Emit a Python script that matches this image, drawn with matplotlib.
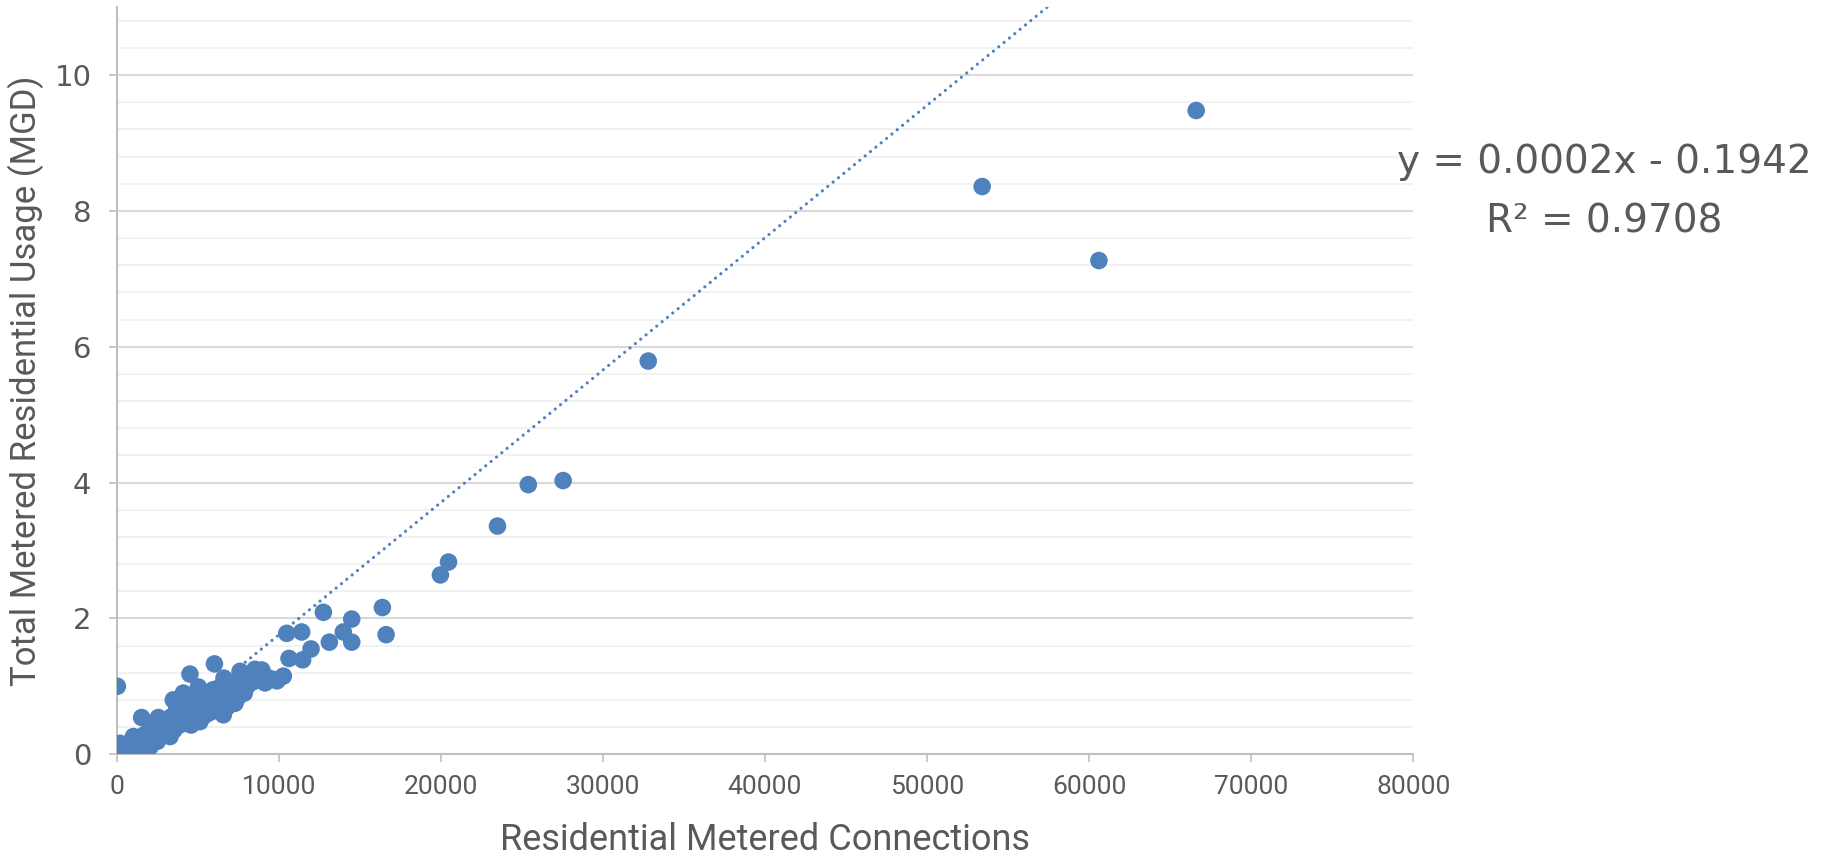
import matplotlib
matplotlib.use("Agg")
import matplotlib.pyplot as plt
from matplotlib.ticker import MultipleLocator

# residential metered connections vs. total metered residential usage (MGD)
connections = [
    30, 80, 150, 200, 260, 320, 400, 450, 120, 220, 350, 500, 600, 650, 720,
    800, 880, 950, 1040, 1100, 1180, 1250, 1320, 1400, 1480, 1550, 1600, 1680,
    1750, 1830, 1900, 1980, 2070, 2150, 2230, 2300, 2380, 2450, 2520, 2580,
    2650, 2720, 2800, 2880, 2950, 3030, 3100, 3180, 3240, 3300, 3380, 3450,
    3500, 3560, 3630, 3710, 3780, 3850, 3920, 3990, 4050, 4120, 4200, 4280,
    4350, 4420, 4480, 4530, 4600, 4660, 4730, 4800, 4870, 4940, 5050, 5120,
    5150, 5200, 5290, 5350, 5430, 5500, 5580, 5650, 5720, 5800, 5880, 5970,
    6040, 6100, 6180, 6260, 6340, 6420, 6500, 6590, 6630, 6700, 6780, 6850,
    6930, 7010, 7100, 7200, 7310, 7400, 7500, 7620, 7700, 7820, 7880, 7950,
    8050, 8200, 8340, 8450, 8540, 8700, 8960, 9160, 9400, 9670, 9900, 10290,
    50, 10640, 10500, 11420, 11480, 12000, 12760, 13130, 13990, 14510, 14510,
    16400, 16630, 19980, 20480, 23500, 25400, 27550, 32800, 53400, 60600, 66600,
]
usage_mgd = [
    0.01, 0.02, 0.03, 0.05, 0.04, 0.06, 0.05, 0.08, 0.14, 0.16, 0.12, 0.10,
    0.07, 0.12, 0.09, 0.14, 0.11, 0.17, 0.26, 0.13, 0.20, 0.16, 0.24, 0.19,
    0.12, 0.54, 0.22, 0.28, 0.17, 0.25, 0.31, 0.20, 0.11, 0.29, 0.35, 0.24,
    0.42, 0.30, 0.19, 0.54, 0.38, 0.27, 0.45, 0.33, 0.50, 0.40, 0.29, 0.47,
    0.31, 0.26, 0.55, 0.42, 0.80, 0.36, 0.60, 0.70, 0.48, 0.56, 0.72, 0.44,
    0.63, 0.90, 0.52, 0.68, 0.58, 0.78, 0.49, 1.18, 0.43, 0.66, 0.84, 0.55,
    0.72, 0.61, 0.99, 0.50, 0.48, 0.77, 0.80, 0.65, 0.88, 0.58, 0.74, 0.69,
    0.91, 0.62, 0.80, 0.95, 1.33, 0.72, 0.86, 0.66, 0.98, 0.78, 0.90, 0.58,
    1.12, 0.84, 1.02, 0.70, 0.93, 0.82, 1.05, 0.88, 0.75, 0.97, 0.84, 1.22,
    1.08, 0.92, 0.90, 1.13, 1.00, 1.18, 1.13, 1.07, 1.25, 1.16, 1.24, 1.05,
    1.12, 1.10, 1.08, 1.15,
    1.00, 1.41, 1.78, 1.80, 1.39, 1.55, 2.09, 1.65, 1.80, 1.99, 1.65,
    2.16, 1.76, 2.64, 2.83, 3.36, 3.97, 4.03, 5.79, 8.36, 7.27, 9.48,
]

# linear trendline
slope = 0.000195
intercept = -0.1942
r_squared = 0.9708

blue = "#4F81BD"
text_gray = "#595959"

fig = plt.figure(figsize=(18.32, 8.55), dpi=100)
ax = fig.add_axes([0.0636, 0.1179, 0.7079, 0.8736])

ax.scatter(connections, usage_mgd, s=160, color=blue, edgecolors="none", zorder=3)

x_line = [min(connections), max(connections)]
y_line = [slope * x + intercept for x in x_line]
ax.plot(x_line, y_line, color=blue, lw=2.3, linestyle=(0, (0.01, 2.15)),
        dash_capstyle="round", zorder=2)

ax.set_xlim(0, 80000)
ax.set_ylim(0, 11)
ax.xaxis.set_major_locator(MultipleLocator(10000))
ax.yaxis.set_major_locator(MultipleLocator(2))
ax.yaxis.set_minor_locator(MultipleLocator(0.4))

ax.grid(axis="y", which="major", color="#D9D9D9", lw=1.5, zorder=0)
ax.grid(axis="y", which="minor", color="#F2F2F2", lw=1.5, zorder=0)
ax.set_axisbelow(True)

for side in ["top", "right"]:
    ax.spines[side].set_visible(False)
for side in ["left", "bottom"]:
    ax.spines[side].set_color("#BFBFBF")
    ax.spines[side].set_linewidth(1.5)

ax.tick_params(axis="both", which="major", direction="out", length=6,
               width=1.2, color="#BFBFBF", labelcolor=text_gray)
ax.tick_params(axis="y", which="minor", length=0)
ax.tick_params(axis="y", pad=12, labelsize=21)
ax.tick_params(axis="x", pad=9)
for lbl in ax.get_xticklabels():
    lbl.set_family("Roboto")
    lbl.set_fontsize(19)

ax.set_xlabel("Residential Metered Connections", family="Roboto", fontsize=26,
              color=text_gray)
ax.set_ylabel("Total Metered Residential Usage (MGD)", family="Roboto",
              fontsize=25, color=text_gray)
ax.xaxis.set_label_coords(0.5, -0.0905)
ax.yaxis.set_label_coords(-0.056, 0.5)

fig.text(0.8755, 0.8105, f"y = {slope:.4f}x - {abs(intercept):.4f}",
         ha="center", va="center", fontsize=28, color=text_gray)
fig.text(0.8755, 0.7415, f"R² = {r_squared:.4f}",
         ha="center", va="center", fontsize=28, color=text_gray)

fig.savefig("out.png", dpi=100)
